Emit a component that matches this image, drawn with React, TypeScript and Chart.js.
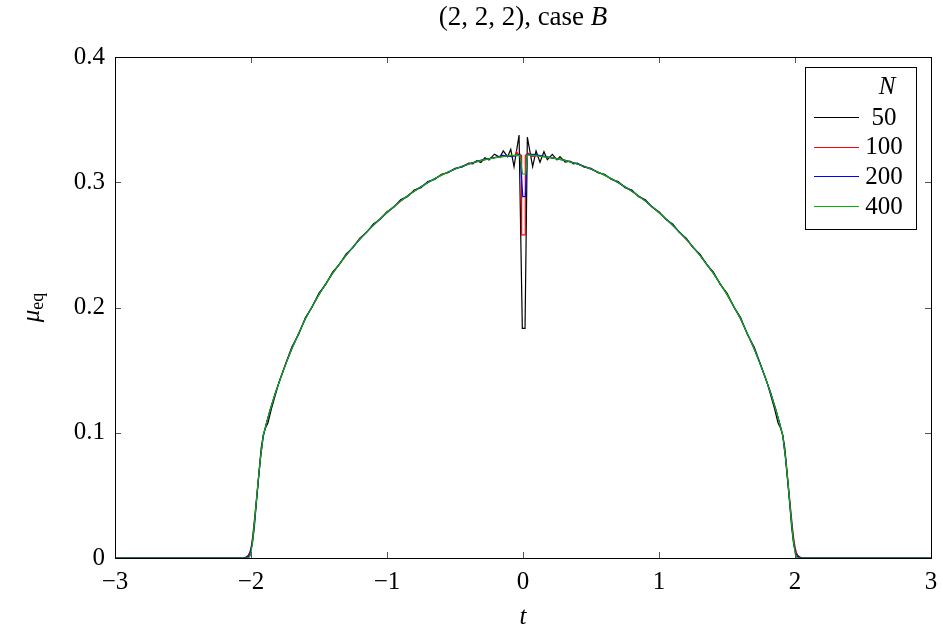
import React, { useEffect, useRef } from 'react';
import { Chart, registerables } from 'chart.js';

Chart.register(...registerables);

const TITLE_MAIN = '(2, 2, 2), case ';
const TITLE_ITALIC = 'B';
const X_LABEL = 't';
const Y_LABEL_MAIN = 'μ';
const Y_LABEL_SUB = 'eq';
const LEGEND_TITLE = 'N';

const SERIES_LABELS = ['50', '100', '200', '400'];
const SERIES_COLORS = ['#000000', '#ff0000', '#0000ff', '#00b400'];

const X_TICKS = [-3, -2, -1, 0, 1, 2, 3];
const Y_TICKS = [0, 0.1, 0.2, 0.3, 0.4];

// N = 50
const T50 = [
  -3, -2.5, -2.06, -2.04, -2.02, -2.005, -1.99, -1.975, -1.96, -1.94, -1.925, -1.91, -1.895, -1.875, -1.85,
  -1.8, -1.75, -1.7, -1.65, -1.6, -1.55, -1.5, -1.45, -1.4, -1.35, -1.3, -1.25, -1.2, -1.15, -1.1,
  -1.05, -1.0, -0.95, -0.9, -0.85, -0.8, -0.75, -0.7, -0.65, -0.6, -0.55, -0.5, -0.45, -0.4, -0.37,
  -0.34, -0.31, -0.28, -0.25, -0.21, -0.17, -0.145, -0.113, -0.09, -0.066, -0.029, -0.005, 0.015,
  0.032, 0.071, 0.096, 0.125, 0.154, 0.179, 0.216, 0.25, 0.272, 0.31, 0.346, 0.37, 0.4, 0.45, 0.5,
  0.55, 0.6, 0.65, 0.7, 0.75, 0.8, 0.85, 0.9, 0.95, 1.0, 1.05, 1.1, 1.15, 1.2, 1.25, 1.3, 1.35, 1.4,
  1.45, 1.5, 1.55, 1.6, 1.65, 1.7, 1.75, 1.8, 1.85, 1.875, 1.895, 1.91, 1.925, 1.94, 1.96, 1.975, 1.99,
  2.005, 2.02, 2.04, 2.06, 2.5, 3,
];
const MU50 = [
  0, 0, 0, 0.0005, 0.002, 0.005, 0.011, 0.025, 0.045, 0.07, 0.088, 0.098, 0.1035, 0.108, 0.119,
  0.138, 0.1535, 0.1685, 0.1785, 0.192, 0.2005, 0.2115, 0.2185, 0.2283, 0.2345, 0.2428, 0.2478, 0.2554, 0.26, 0.2667,
  0.2705, 0.2765, 0.28, 0.286, 0.2885, 0.2937, 0.2957, 0.3006, 0.3022, 0.3064, 0.3076, 0.3112, 0.312, 0.3152, 0.3146,
  0.3172, 0.3158, 0.3195, 0.3178, 0.3224, 0.3199, 0.325, 0.3204, 0.3263, 0.3124, 0.3377, 0.1834, 0.1834,
  0.336, 0.3125, 0.325, 0.316, 0.3244, 0.318, 0.3223, 0.3178, 0.3204, 0.316, 0.3168, 0.3146, 0.3152, 0.312, 0.3112,
  0.3076, 0.3064, 0.3022, 0.3006, 0.2957, 0.2937, 0.2885, 0.286, 0.28, 0.2765, 0.2705, 0.2667, 0.26, 0.2554, 0.2478, 0.2428, 0.2345, 0.2283,
  0.2185, 0.2115, 0.2005, 0.192, 0.1785, 0.1685, 0.1535, 0.138, 0.119, 0.108, 0.1035, 0.098, 0.088, 0.07, 0.045, 0.025, 0.011,
  0.005, 0.002, 0.0005, 0, 0, 0,
];

// N = 100
const T100 = [
  -3, -2.5, -2.045, -2.025, -2.01, -2.0, -1.99, -1.98, -1.96, -1.947, -1.93, -1.91, -1.89, -1.86,
  -1.82, -1.78, -1.74, -1.7, -1.6, -1.5, -1.4, -1.3, -1.2, -1.1, -1.0, -0.9, -0.8, -0.7, -0.6, -0.5,
  -0.4, -0.3, -0.2, -0.15, -0.1, -0.06, -0.047, -0.03, -0.012, -0.01, 0.015, 0.017, 0.03, 0.04, 0.06,
  0.1, 0.15, 0.2, 0.3, 0.4, 0.5, 0.6, 0.7, 0.8, 0.9, 1.0, 1.1, 1.2, 1.3, 1.4, 1.5, 1.6, 1.7, 1.74,
  1.78, 1.82, 1.86, 1.89, 1.91, 1.93, 1.947, 1.96, 1.98, 1.99, 2.0, 2.01, 2.025, 2.045, 2.5, 3,
];
const MU100 = [
  0, 0, 0, 0.001, 0.004, 0.008, 0.015, 0.025, 0.047, 0.062, 0.08, 0.098, 0.106, 0.118,
  0.132, 0.1448, 0.1565, 0.1672, 0.1912, 0.2102, 0.2276, 0.2417, 0.2549, 0.2656, 0.2761, 0.2849, 0.2932, 0.2996, 0.306, 0.3104,
  0.3149, 0.3175, 0.3199, 0.3205, 0.3215, 0.3212, 0.3245, 0.3215, 0.3215, 0.258, 0.258, 0.3215, 0.3225, 0.3232, 0.3205,
  0.3212, 0.3205, 0.3198, 0.3178, 0.3147, 0.3107, 0.3056, 0.2999, 0.2928, 0.2852, 0.2757, 0.266, 0.2545, 0.242, 0.2272, 0.2106, 0.1909, 0.1671, 0.1562,
  0.1446, 0.1322, 0.1182, 0.106, 0.098, 0.081, 0.063, 0.048, 0.026, 0.016, 0.009, 0.004, 0.001, 0, 0, 0,
];

// N = 200
const T200 = [
  -3, -2.5, -2.04, -2.02, -2.005, -1.995, -1.985, -1.97, -1.95, -1.93, -1.91, -1.89, -1.86, -1.82,
  -1.78, -1.74, -1.7, -1.6, -1.5, -1.4, -1.3, -1.2, -1.1, -1.0, -0.9, -0.8, -0.7, -0.6, -0.5, -0.4,
  -0.3, -0.2, -0.15, -0.08, -0.022, -0.002, 0.017, 0.032, 0.08, 0.15, 0.2, 0.3, 0.4, 0.5, 0.6, 0.7,
  0.8, 0.9, 1.0, 1.1, 1.2, 1.3, 1.4, 1.5, 1.6, 1.7, 1.74, 1.78, 1.82, 1.86, 1.89, 1.91, 1.93, 1.95,
  1.97, 1.985, 1.995, 2.005, 2.02, 2.04, 2.5, 3,
];
const MU200 = [
  0, 0, 0, 0.001, 0.004, 0.01, 0.018, 0.034, 0.057, 0.08, 0.097, 0.106, 0.118, 0.132,
  0.1446, 0.1562, 0.1671, 0.191, 0.2107, 0.2272, 0.2421, 0.2545, 0.2659, 0.2757, 0.2853, 0.2928, 0.2999, 0.3056, 0.3107, 0.3145,
  0.3178, 0.3198, 0.3215, 0.3205, 0.3223, 0.2886, 0.2886, 0.3223, 0.3222, 0.3208, 0.3197, 0.3176, 0.3147, 0.3105, 0.3058, 0.2997,
  0.293, 0.285, 0.2759, 0.2657, 0.2547, 0.2418, 0.2274, 0.2104, 0.1911, 0.167, 0.1561, 0.1447, 0.1321, 0.1181, 0.1065, 0.0975, 0.0795, 0.057,
  0.034, 0.018, 0.009, 0.004, 0.001, 0, 0, 0,
];

// N = 400
const T400 = [
  -3, -2.5, -2.03, -2.015, -2.005, -2.0, -1.99, -1.98, -1.96, -1.947, -1.93, -1.91, -1.89, -1.86,
  -1.82, -1.78, -1.74, -1.7, -1.6, -1.5, -1.4, -1.3, -1.2, -1.1, -1.0, -0.9, -0.8, -0.7, -0.6, -0.5,
  -0.4, -0.3, -0.2, -0.1, -0.022, -0.004, 0.02, 0.034, 0.1, 0.2, 0.3, 0.4, 0.5, 0.6, 0.7, 0.8, 0.9,
  1.0, 1.1, 1.2, 1.3, 1.4, 1.5, 1.6, 1.7, 1.74, 1.78, 1.82, 1.86, 1.89, 1.91, 1.93, 1.947, 1.96,
  1.98, 1.99, 2.0, 2.005, 2.015, 2.03, 2.5, 3,
];
const MU400 = [
  0, 0, 0, 0.0005, 0.002, 0.004, 0.012, 0.022, 0.046, 0.062, 0.08, 0.098, 0.106, 0.118,
  0.132, 0.1445, 0.156, 0.167, 0.191, 0.2105, 0.2273, 0.2419, 0.2546, 0.2658, 0.2758, 0.2851, 0.2929, 0.2998, 0.3057, 0.3106,
  0.3146, 0.3177, 0.3197, 0.3212, 0.3215, 0.3066, 0.3066, 0.3218, 0.3212, 0.3197, 0.3177, 0.3146, 0.3106, 0.3057, 0.2998, 0.2929, 0.2851,
  0.2758, 0.2658, 0.2546, 0.2419, 0.2273, 0.2105, 0.191, 0.167, 0.156, 0.1445, 0.132, 0.118, 0.106, 0.098, 0.08, 0.062, 0.046,
  0.022, 0.012, 0.004, 0.002, 0.0005, 0, 0, 0,
];

const SERIES_T = [T50, T100, T200, T400];
const SERIES_MU = [MU50, MU100, MU200, MU400];

const FONT = '"Liberation Serif", "DejaVu Serif", serif';
const FS = 25;
const TITLE_FS = 27;

const W = 943;
const H = 632;

const fmtTick = (v: number, decimals: number) => {
  const s = Math.abs(v).toFixed(decimals);
  return v < 0 ? '\u2212' + s : s;
};

const decorPlugin = {
  id: 'decor',
  afterDraw(chart: any) {
    const { ctx, chartArea: a, scales } = chart;
    ctx.save();

    // inner tick marks
    ctx.strokeStyle = '#555';
    ctx.lineWidth = 1;
    const tl = 6;
    X_TICKS.forEach((v) => {
      const px = Math.round(scales.x.getPixelForValue(v)) + 0.5;
      ctx.beginPath();
      ctx.moveTo(px, a.bottom);
      ctx.lineTo(px, a.bottom - tl);
      ctx.moveTo(px, a.top);
      ctx.lineTo(px, a.top + tl);
      ctx.stroke();
    });
    Y_TICKS.forEach((v) => {
      const py = Math.round(scales.y.getPixelForValue(v)) + 0.5;
      ctx.beginPath();
      ctx.moveTo(a.left, py);
      ctx.lineTo(a.left + tl, py);
      ctx.moveTo(a.right, py);
      ctx.lineTo(a.right - tl, py);
      ctx.stroke();
    });

    // frame
    ctx.strokeStyle = '#000';
    ctx.lineWidth = 1;
    ctx.strokeRect(Math.round(a.left) + 0.5, Math.round(a.top) + 0.5, Math.round(a.right - a.left), Math.round(a.bottom - a.top));

    ctx.fillStyle = '#000';
    ctx.textBaseline = 'middle';

    // title
    const cx = (a.left + a.right) / 2;
    ctx.font = `${TITLE_FS}px ${FONT}`;
    const w1 = ctx.measureText(TITLE_MAIN).width;
    ctx.font = `italic ${TITLE_FS}px ${FONT}`;
    const w2 = ctx.measureText(TITLE_ITALIC).width;
    const tx = cx - (w1 + w2) / 2;
    ctx.textAlign = 'left';
    ctx.font = `${TITLE_FS}px ${FONT}`;
    ctx.fillText(TITLE_MAIN, tx, 18);
    ctx.font = `italic ${TITLE_FS}px ${FONT}`;
    ctx.fillText(TITLE_ITALIC, tx + w1, 18);

    // x label
    ctx.textAlign = 'center';
    ctx.font = `italic ${FS}px ${FONT}`;
    ctx.fillText(X_LABEL, cx, 617);

    // y label (rotated)
    ctx.save();
    ctx.translate(33, (a.top + a.bottom) / 2);
    ctx.rotate(-Math.PI / 2);
    ctx.font = `italic ${FS}px ${FONT}`;
    const mw = ctx.measureText(Y_LABEL_MAIN).width;
    ctx.font = `${Math.round(FS * 0.72)}px ${FONT}`;
    const sw = ctx.measureText(Y_LABEL_SUB).width;
    const lx = -(mw + sw) / 2;
    ctx.textAlign = 'left';
    ctx.textBaseline = 'alphabetic';
    ctx.font = `italic ${FS}px ${FONT}`;
    ctx.fillText(Y_LABEL_MAIN, lx, 6);
    ctx.font = `${Math.round(FS * 0.72)}px ${FONT}`;
    ctx.fillText(Y_LABEL_SUB, lx + mw, 10);
    ctx.restore();

    // legend
    const lx0 = 805, ly0 = 67, lw = 111, lh = 162;
    ctx.fillStyle = '#fff';
    ctx.fillRect(lx0, ly0, lw, lh);
    ctx.strokeStyle = '#000';
    ctx.lineWidth = 1;
    ctx.strokeRect(lx0 + 0.5, ly0 + 0.5, lw, lh);
    ctx.fillStyle = '#000';
    ctx.textAlign = 'center';
    ctx.textBaseline = 'middle';
    const textX = 884;
    ctx.font = `italic ${FS}px ${FONT}`;
    ctx.fillText(LEGEND_TITLE, textX + 3, 87);
    chart.data.datasets.forEach((ds: any, i: number) => {
      const y = 117 + i * 29.7;
      ctx.strokeStyle = ds.borderColor;
      ctx.lineWidth = 1.2;
      ctx.beginPath();
      ctx.moveTo(814, Math.round(y) + 0.5);
      ctx.lineTo(859, Math.round(y) + 0.5);
      ctx.stroke();
      ctx.fillStyle = '#000';
      ctx.font = `${FS}px ${FONT}`;
      ctx.fillText(ds.label, textX, y + 1);
    });

    ctx.restore();
  },
};

export default function App() {
  const ref = useRef<HTMLCanvasElement | null>(null);

  useEffect(() => {
    document.body.style.margin = '0';
    const canvas = ref.current;
    if (!canvas) return;
    const datasets = SERIES_LABELS.map((label, i) => ({
      label,
      data: SERIES_T[i].map((t, j) => ({ x: t, y: SERIES_MU[i][j] })),
      borderColor: SERIES_COLORS[i],
      backgroundColor: SERIES_COLORS[i],
      borderWidth: 1.2,
      pointRadius: 0,
      tension: 0,
      fill: false,
      order: SERIES_LABELS.length - i,
    }));
    const chart = new Chart(canvas, {
      type: 'line',
      data: { datasets },
      options: {
        animation: false,
        responsive: false,
        devicePixelRatio: 1,
        layout: { padding: { left: 0, right: 12, top: 57, bottom: 0 } },
        plugins: {
          legend: { display: false },
          title: { display: false },
          tooltip: { enabled: false },
        },
        scales: {
          x: {
            type: 'linear',
            min: -3,
            max: 3,
            afterBuildTicks: (s: any) => {
              s.ticks = X_TICKS.map((v) => ({ value: v }));
            },
            afterFit: (s: any) => {
              s.height = H - 558;
              s.paddingLeft = 0;
              s.paddingRight = 0;
            },
            grid: { display: false, drawTicks: false },
            border: { display: false },
            ticks: {
              padding: 9,
              color: '#000',
              font: { family: FONT, size: FS },
              maxRotation: 0,
              autoSkip: false,
              callback: (v: any) => fmtTick(Number(v), 0),
            },
          },
          y: {
            type: 'linear',
            min: 0,
            max: 0.4,
            afterBuildTicks: (s: any) => {
              s.ticks = Y_TICKS.map((v) => ({ value: v }));
            },
            afterFit: (s: any) => {
              s.width = 115;
              s.paddingTop = 0;
              s.paddingBottom = 0;
            },
            grid: { display: false, drawTicks: false },
            border: { display: false },
            ticks: {
              padding: 10,
              color: '#000',
              font: { family: FONT, size: FS },
              autoSkip: false,
              callback: (v: any) => (Number(v) === 0 ? '0' : fmtTick(Number(v), 1)),
            },
          },
        },
      },
      plugins: [decorPlugin],
    } as any);
    return () => chart.destroy();
  }, []);

  return (
    <div style={{ width: W, height: H }}>
      <canvas ref={ref} width={W} height={H} style={{ display: 'block', width: W, height: H }} />
    </div>
  );
}
